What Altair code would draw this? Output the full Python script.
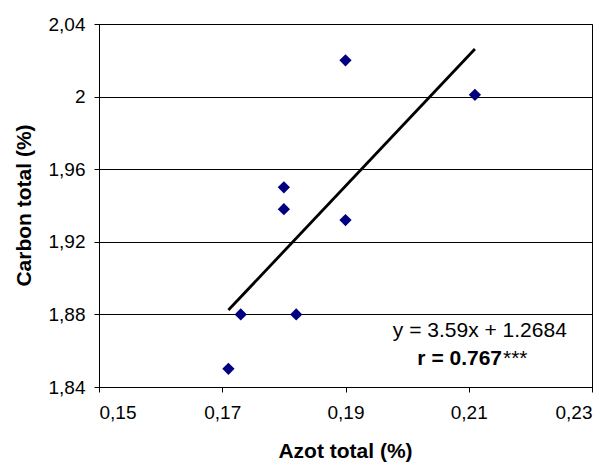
import altair as alt
import pandas as pd

# Data
azot = [0.171, 0.173, 0.18, 0.18, 0.182, 0.19, 0.19, 0.211]
carbon = [1.85, 1.88, 1.95, 1.938, 1.88, 2.02, 1.932, 2.001]

x_ticks = [0.15, 0.17, 0.19, 0.21, 0.23]
y_ticks = [1.84, 1.88, 1.92, 1.96, 2.00, 2.04]

eq_text = ["y = 3.59x + 1.2684"]
eq_pos_x = [0.2118]
eq_pos_y = [1.8675]

r_text = ["r = 0.767"]
stars_text = ["***"]
r_pos_x = [0.2154]
r_pos_y = [1.8521]

FONT = "Liberation Sans"

df = pd.DataFrame({"azot": azot, "carbon": carbon})

xscale = alt.Scale(domain=[0.15, 0.23], nice=False, zero=False)
yscale = alt.Scale(domain=[1.84, 2.04], nice=False, zero=False)

x_axis = alt.Axis(
    values=x_ticks,
    labelExpr="replace(format(datum.value, '.2f'), '.', ',')",
    grid=False,
    title="Azot total (%)",
    titleX=246,
    titleY=70,
    titleAlign="center",
    titleBaseline="alphabetic",
    labelPadding=11,
)
y_axis = alt.Axis(
    values=y_ticks,
    labelExpr="replace(format(datum.value, '.2~f'), '.', ',')",
    grid=True,
    gridColor="black",
    gridWidth=1,
    title="Carbon total (%)",
    titleX=-69,
    titleY=181,
    titleAngle=270,
    titleAlign="center",
    titleBaseline="alphabetic",
    labelPadding=9,
)

X = alt.X("azot:Q", scale=xscale, axis=x_axis, title="Azot total (%)")
Y = alt.Y("carbon:Q", scale=yscale, axis=y_axis, title="Carbon total (%)")

points = alt.Chart(df).mark_point(
    shape="diamond", filled=True, color="#000080", size=150, opacity=1
).encode(x=X, y=Y)

line = alt.Chart(df).transform_regression("azot", "carbon").mark_line(
    color="black", strokeWidth=2.8
).encode(x=X, y=Y)

eq_df = pd.DataFrame({"azot": eq_pos_x, "carbon": eq_pos_y, "label": eq_text})
eq = alt.Chart(eq_df).mark_text(
    font=FONT, fontSize=21, color="black", align="center", baseline="alphabetic"
).encode(x=X, y=Y, text="label:N")

r_df = pd.DataFrame({"azot": r_pos_x, "carbon": r_pos_y, "label": r_text, "stars": stars_text})
r_bold = alt.Chart(r_df).mark_text(
    font=FONT, fontSize=21, fontWeight="bold", color="black", align="right", baseline="alphabetic"
).encode(x=X, y=Y, text="label:N")
r_stars = alt.Chart(r_df).mark_text(
    font=FONT, fontSize=21, color="black", align="left", baseline="alphabetic", dx=1
).encode(x=X, y=Y, text="stars:N")

chart = alt.layer(points, line, eq, r_bold, r_stars).properties(
    width=493,
    height=363,
    padding={"left": 91, "top": 16, "right": 13, "bottom": 75},
    autosize=alt.AutoSizeParams(type="none"),
    background="white",
).configure_view(
    stroke="black", strokeWidth=1
).configure_axis(
    domainColor="black",
    domainWidth=1,
    tickColor="black",
    tickSize=5,
    labelColor="black",
    titleColor="black",
    labelFont=FONT,
    titleFont=FONT,
    labelFontSize=19,
    titleFontSize=21,
    titleFontWeight="bold",
)

chart.save("out.html", embed_options={"renderer": "svg", "actions": False})
